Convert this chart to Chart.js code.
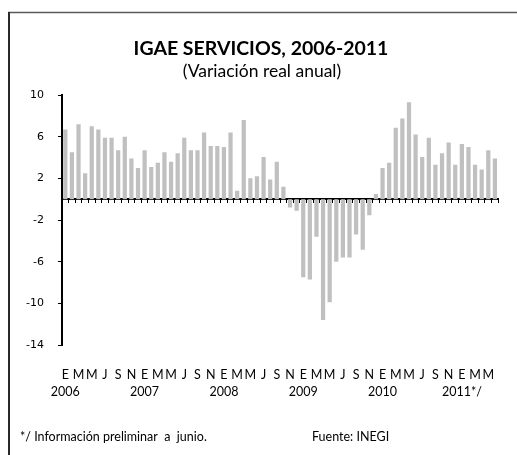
<!DOCTYPE html>
<html>
<head>
<meta charset="utf-8">
<script src="https://cdn.jsdelivr.net/npm/chart.js@4"></script>
<style>
  html, body { margin: 0; padding: 0; background: #fff; }
  #wrap { width: 517px; height: 455px; position: relative; }
</style>
</head>
<body>
<div id="wrap"><canvas id="c" width="517" height="455"></canvas></div>
<script>
// Monthly annual real change of the services IGAE, Jan 2006 - Jun 2011
const monthLetters = ['E', 'F', 'M', 'A', 'M', 'J', 'J', 'A', 'S', 'O', 'N', 'D'];
const yearLabels = ['2006', '2007', '2008', '2009', '2010', '2011*/'];

const values2006 = [6.7, 4.5, 7.2, 2.5, 7.0, 6.7, 5.9, 5.9, 4.7, 6.0, 3.9, 3.0];
const values2007 = [4.7, 3.1, 3.5, 4.5, 3.6, 4.4, 5.9, 4.7, 4.7, 6.4, 5.1, 5.1];
const values2008 = [5.0, 6.4, 0.8, 7.6, 2.0, 2.2, 4.05, 1.9, 3.6, 1.2, -0.8, -1.1];
const values2009 = [-7.5, -7.7, -3.6, -11.6, -9.9, -6.0, -5.6, -5.6, -3.4, -4.85, -1.55, 0.5];
const values2010 = [3.0, 3.5, 6.85, 7.75, 9.3, 6.2, 4.05, 5.9, 3.3, 4.4, 5.45, 3.3];
const values2011 = [5.3, 5.0, 3.3, 2.85, 4.7, 3.9];

const yTicks = [10, 6, 2, -2, -6, -10, -14];

const values = [].concat(values2006, values2007, values2008, values2009, values2010, values2011);
const categories = values.map((v, i) => yearLabels[Math.floor(i / 12)] + '-' + monthLetters[i % 12]);

// Page frame (top and left rules)
const framePlugin = {
  id: 'frame',
  beforeDraw(chart) {
    const ctx = chart.ctx;
    ctx.save();
    ctx.fillStyle = '#fff';
    ctx.fillRect(0, 0, chart.width, chart.height);
    ctx.strokeStyle = '#5a5a5a';
    ctx.lineWidth = 1.5;
    ctx.beginPath();
    ctx.moveTo(8, 12.5);
    ctx.lineTo(chart.width, 12.5);
    ctx.stroke();
    ctx.strokeStyle = '#2a2a2a';
    ctx.lineWidth = 2;
    ctx.beginPath();
    ctx.moveTo(9, 12);
    ctx.lineTo(9, chart.height);
    ctx.stroke();
    ctx.restore();
  }
};

// Title, subtitle and footnotes
const textPlugin = {
  id: 'texts',
  afterDraw(chart) {
    const ctx = chart.ctx;
    ctx.save();
    ctx.fillStyle = '#000';
    ctx.textBaseline = 'middle';
    ctx.textAlign = 'center';
    ctx.font = 'bold 19.5px Lato';
    ctx.fillText('IGAE SERVICIOS, 2006-2011', 261, 49);
    ctx.font = '17.5px Lato';
    ctx.fillText('(Variación real anual)', 262, 71);
    ctx.textAlign = 'left';
    ctx.font = '12.5px Lato';
    ctx.fillText('*/ Información preliminar  a  junio.', 20, 437);
    ctx.fillText('Fuente: INEGI', 312, 437);
    ctx.restore();
  }
};

new Chart(document.getElementById('c'), {
  type: 'bar',
  data: {
    labels: categories,
    datasets: [{
      data: values,
      backgroundColor: '#c0c0c0',
      borderWidth: 0,
      xAxisID: 'x',
      yAxisID: 'y',
      barPercentage: 0.64,
      categoryPercentage: 1.0
    }]
  },
  options: {
    responsive: false,
    animation: false,
    layout: { padding: { left: 10, right: 12, top: 95, bottom: 0 } },
    plugins: {
      legend: { display: false },
      title: { display: false },
      tooltip: { enabled: false }
    },
    scales: {
      x: {
        type: 'category',
        position: { y: 0 },
        offset: true,
        grid: {
          display: true,
          offset: true,
          drawOnChartArea: false,
          drawTicks: true,
          tickLength: 3,
          tickColor: '#000',
          tickWidth: 1
        },
        border: { display: true, color: '#000', width: 2 },
        ticks: { display: false }
      },
      xb: {
        type: 'category',
        position: 'bottom',
        offset: true,
        grid: { display: false, drawTicks: false },
        border: { display: false },
        afterFit(scale) { scale.height = 110; },
        ticks: {
          autoSkip: false,
          maxRotation: 0,
          minRotation: 0,
          padding: 22,
          color: '#000',
          font: { family: 'Lato', size: 12.5, lineHeight: 1.35 },
          callback(value, index) {
            if (index % 2) return '';
            const m = monthLetters[index % 12];
            if (index % 12 === 0) return [m, yearLabels[index / 12]];
            return m;
          }
        }
      },
      y: {
        type: 'linear',
        min: -14,
        max: 10,
        afterFit(scale) { scale.width = 52; },
        afterBuildTicks(scale) { scale.ticks = yTicks.map(v => ({ value: v })); },
        grid: {
          display: true,
          drawOnChartArea: false,
          drawTicks: true,
          tickLength: 4,
          tickColor: '#000'
        },
        border: { display: true, color: '#000', width: 2 },
        ticks: {
          padding: 14,
          color: '#000',
          font: { family: 'DejaVu Sans', size: 11 }
        }
      }
    }
  },
  plugins: [framePlugin, textPlugin]
});
</script>
</body>
</html>
